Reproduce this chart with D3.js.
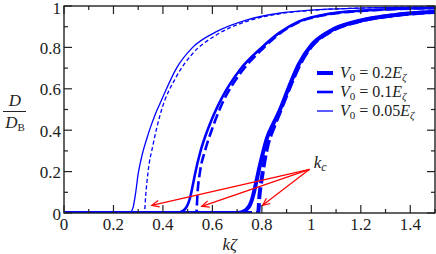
<!DOCTYPE html>
<html>
<head>
<meta charset="utf-8">
<script src="https://cdn.jsdelivr.net/npm/d3@7"></script>
<style>
  body { margin: 0; background: #fff; }
  svg { display: block; }
</style>
</head>
<body>
<svg id="my-svg" width="436" height="254"></svg>
<script>
// D/D_B versus k*zeta
const thickSolid = [[0,0],[0.70,0],[0.72,0.004],[0.73,0.01],[0.74,0.02],[0.75,0.035],[0.76,0.065],[0.77,0.11],[0.78,0.165],[0.79,0.22],[0.80,0.27],[0.82,0.36],[0.85,0.44],[0.87,0.49],[0.91,0.61],[0.95,0.72],[1.0,0.81],[1.07,0.875],[1.2,0.93],[1.34,0.957],[1.5,0.972]];
const thickDash  = [[0,0],[0.785,0],[0.79,0.08],[0.80,0.17],[0.82,0.31],[0.85,0.42],[0.87,0.48],[0.91,0.60],[0.95,0.71],[1.0,0.805],[1.07,0.872],[1.2,0.928],[1.34,0.956],[1.5,0.971]];
const medSolid   = [[0,0],[0.46,0],[0.47,0.004],[0.48,0.01],[0.49,0.02],[0.50,0.04],[0.51,0.075],[0.52,0.13],[0.53,0.19],[0.55,0.29],[0.59,0.43],[0.64,0.56],[0.71,0.69],[0.80,0.80],[0.87,0.87],[0.95,0.925],[1.07,0.962],[1.27,0.982],[1.5,0.99]];
const medDash    = [[0,0],[0.535,0],[0.54,0.10],[0.55,0.20],[0.57,0.30],[0.60,0.41],[0.64,0.53],[0.71,0.67],[0.80,0.79],[0.87,0.865],[0.95,0.922],[1.07,0.96],[1.27,0.981],[1.5,0.99]];
const thinSolid  = [[0,0],[0.26,0],[0.27,0.005],[0.28,0.03],[0.29,0.10],[0.30,0.19],[0.31,0.25],[0.32,0.30],[0.335,0.36],[0.347,0.405],[0.37,0.48],[0.394,0.545],[0.455,0.70],[0.52,0.80],[0.616,0.876],[0.737,0.932],[0.87,0.965],[1.0,0.98],[1.2,0.99],[1.5,0.996]];
const thinDash   = [[0,0],[0.325,0],[0.33,0.08],[0.34,0.2],[0.36,0.33],[0.39,0.48],[0.455,0.66],[0.52,0.77],[0.616,0.86],[0.737,0.925],[0.87,0.962],[1.0,0.979],[1.2,0.99],[1.5,0.996]];

const xTicks = [0, 0.2, 0.4, 0.6, 0.8, 1, 1.2, 1.4];
const yTicks = [0, 0.2, 0.4, 0.6, 0.8, 1];
const legendLabels = ["0.2", "0.1", "0.05"];

// k_c arrows: from label corner to the onset of each dashed curve
const arrowFrom = [0.993, 0.211];
const arrowTo = [[0.355, 0.037], [0.557, 0.032], [0.803, 0.037]];

const FONT = '"Liberation Serif"';

const svg = d3.select("#my-svg"),
      margin = {top: 6, right: 1, bottom: 41, left: 64},
      W = 436 - margin.left - margin.right,
      H = 254 - margin.top - margin.bottom;

const x = d3.scaleLinear().domain([0, 1.5]).range([0, W]),
      y = d3.scaleLinear().domain([0, 1]).range([H, 0]);

const g = svg.append("g").attr("transform", `translate(${margin.left},${margin.top})`);

g.append("clipPath").attr("id", "clip").append("rect").attr("width", W).attr("height", H);

const line = d3.line().x(d => x(d[0])).y(d => y(d[1])).curve(d3.curveMonotoneX);

const curves = [
  {d: thinSolid, w: 1.3, dash: null},
  {d: thinDash, w: 1.3, dash: "4,2.5"},
  {d: medSolid, w: 2.6, dash: null},
  {d: medDash, w: 2.6, dash: "10,4"},
  {d: thickSolid, w: 4, dash: null},
  {d: thickDash, w: 4, dash: "12,4"}
];

g.append("g").attr("clip-path", "url(#clip)")
  .selectAll("path").data(curves).join("path")
  .attr("d", c => line(c.d))
  .attr("fill", "none")
  .attr("stroke", "#0000ff")
  .attr("stroke-width", c => c.w)
  .attr("stroke-dasharray", c => c.dash);

// arrows
const arrows = g.append("g").attr("stroke", "#ff0000").attr("stroke-width", 1.2).attr("fill", "none");
arrowTo.forEach(t => {
  const x0 = x(arrowFrom[0]), y0 = y(arrowFrom[1]), x1 = x(t[0]), y1 = y(t[1]);
  const a = Math.atan2(y1 - y0, x1 - x0), L = 8, s = 0.42;
  arrows.append("line").attr("x1", x0).attr("y1", y0).attr("x2", x1).attr("y2", y1);
  arrows.append("path").attr("d",
    `M${x1 - L * Math.cos(a - s)},${y1 - L * Math.sin(a - s)}L${x1},${y1}L${x1 - L * Math.cos(a + s)},${y1 - L * Math.sin(a + s)}`);
});

g.append("text").attr("x", x(1.01)).attr("y", y(0.215)).attr("font-size", 17).attr("fill", "#222")
  .style("font-family", FONT)
  .html('<tspan font-style="italic">k</tspan><tspan font-style="italic" font-size="12" dy="3">c</tspan>');

// frame + inward ticks on all sides
const minorX = d3.range(0, 1.51, 0.1), minorY = d3.range(0, 1.01, 0.1);
const isMajor = v => Math.abs(v * 5 - Math.round(v * 5)) < 1e-6;
const tk = g.append("g").attr("stroke", "#222").attr("stroke-width", 1.2);
minorX.forEach(v => {
  const len = isMajor(v) ? 8 : 4;
  tk.append("line").attr("x1", x(v)).attr("x2", x(v)).attr("y1", H).attr("y2", H - len);
  tk.append("line").attr("x1", x(v)).attr("x2", x(v)).attr("y1", 0).attr("y2", len);
});
minorY.forEach(v => {
  const len = isMajor(v) ? 8 : 4;
  tk.append("line").attr("x1", 0).attr("x2", len).attr("y1", y(v)).attr("y2", y(v));
  tk.append("line").attr("x1", W).attr("x2", W - len).attr("y1", y(v)).attr("y2", y(v));
});
g.append("rect").attr("width", W).attr("height", H).attr("fill", "none").attr("stroke", "#222").attr("stroke-width", 1.4);

g.selectAll(".xl").data(xTicks).join("text")
  .attr("x", d => x(d)).attr("y", H + 17).attr("text-anchor", "middle").attr("font-size", 17).attr("fill", "#222")
  .style("font-family", FONT)
  .text(d => d);
g.selectAll(".yl").data(yTicks).join("text")
  .attr("x", -3).attr("y", d => y(d) + (d === 1 ? 8 : 6.5)).attr("text-anchor", "end").attr("font-size", 17).attr("fill", "#222")
  .style("font-family", FONT)
  .text(d => d);

// axis titles
g.append("text").attr("x", x(0.67)).attr("y", H + 37).attr("text-anchor", "middle").attr("fill", "#222")
  .style("font-family", FONT)
  .attr("font-size", 17).attr("font-style", "italic").text("kζ");
const yl = svg.append("g").attr("transform", "translate(15,0)");
yl.append("text").attr("x", 0).attr("y", 106).attr("text-anchor", "middle").attr("font-size", 17).attr("fill", "#222")
  .style("font-family", FONT)
  .attr("font-style", "italic").text("D");
yl.append("line").attr("x1", -12).attr("x2", 11).attr("y1", 111.5).attr("y2", 111.5).attr("stroke", "#222").attr("stroke-width", 1);
yl.append("text").attr("x", 0).attr("y", 128).attr("text-anchor", "middle").attr("font-size", 17).attr("fill", "#222")
  .style("font-family", FONT)
  .html('<tspan font-style="italic">D</tspan><tspan font-size="11" dy="3">B</tspan>');

// legend
const lg = svg.append("g");
const lw = [4, 2.6, 1.3];
legendLabels.forEach((lab, i) => {
  const yy = 73 + i * 19;
  lg.append("line").attr("x1", 317).attr("x2", 333).attr("y1", yy).attr("y2", yy)
    .attr("stroke", "#0000ff").attr("stroke-width", lw[i]);
  lg.append("text").attr("x", 340).attr("y", yy + 5).attr("font-size", 16).attr("fill", "#222")
    .style("font-family", FONT)
    .html(`<tspan font-style="italic">V</tspan><tspan font-size="11" dy="3">0</tspan><tspan dy="-3"> = ${lab}</tspan><tspan font-style="italic">E</tspan><tspan font-style="italic" font-size="11" dy="3">ζ</tspan>`);
});
</script>
</body>
</html>
